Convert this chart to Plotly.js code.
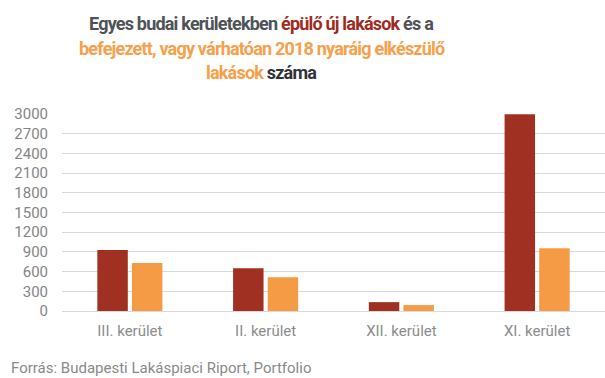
<!DOCTYPE html>
<html><head><meta charset="utf-8">
<script src="https://cdn.plot.ly/plotly-3.0.1.min.js"></script>
<style>html,body{margin:0;padding:0;background:#fff}#c{width:605px;height:378px}</style>
</head><body><div id="c"></div>
<script>
const categories = ["III. kerület", "II. kerület", "XII. kerület", "XI. kerület"];
const epulo = [930, 650, 135, 2995];
const befejezett = [730, 515, 90, 955];
const yTicks = [0, 300, 600, 900, 1200, 1500, 1800, 2100, 2400, 2700, 3000];
const ls = 'letter-spacing:-0.8px;';
const titleLines = [
  '<span style="' + ls + 'color:#4f5256">Egyes budai kerületekben </span><span style="' + ls + 'color:#9E2B1F">épülő új lakások</span><span style="' + ls + 'color:#4f5256"> és a</span>',
  '<span style="' + ls + 'color:#F7A04B">befejezett, vagy várhatóan 2018 nyaráig elkészülő</span>',
  '<span style="' + ls + 'color:#F7A04B">lakások</span><span style="' + ls + 'color:#2f3338"> száma</span>'
];

const traces = [
  {type: 'bar', x: categories, y: epulo, name: 'épülő új lakások', marker: {color: '#A03021'}, hoverinfo: 'y'},
  {type: 'bar', x: categories, y: befejezett, name: 'befejezett lakások', marker: {color: '#F59B45'}, hoverinfo: 'y'}
];

const titleY = [1.457, 1.335, 1.213];
const annotations = titleLines.map((t, i) => ({
  text: '<b>' + t + '</b>', xref: 'paper', yref: 'paper', x: 0.368, y: titleY[i],
  xanchor: 'center', yanchor: 'middle', showarrow: false,
  font: {family: 'Roboto, sans-serif', size: 18, color: '#4f5256'}
}));
annotations.push({
  text: 'Forrás: Budapesti Lakáspiaci Riport, Portfolio', xref: 'paper', yref: 'paper',
  x: -0.097, y: -0.29, xanchor: 'left', yanchor: 'middle', showarrow: false,
  font: {size: 15, color: '#8a8a8a', family: 'Roboto, sans-serif'}
});

const layout = {
  width: 605, height: 378,
  margin: {l: 62, r: 0, t: 114, b: 67},
  paper_bgcolor: '#fff', plot_bgcolor: '#fff',
  showlegend: false,
  barmode: 'group', bargap: 0.49, bargroupgap: 0.12,
  font: {family: 'Roboto, sans-serif'},
  xaxis: {
    type: 'category', showgrid: false, zeroline: false, showline: false,
    tickfont: {size: 15, color: '#8c8c8c'}, ticks: 'outside', ticklen: 6, tickcolor: 'rgba(0,0,0,0)',
    fixedrange: true
  },
  yaxis: {
    range: [0, 3000], tickvals: yTicks, ticktext: yTicks.map(String),
    showgrid: true, gridcolor: '#d9d9d9', gridwidth: 1, zeroline: true, zerolinecolor: '#d9d9d9',
    showline: false, tickfont: {size: 15, color: '#858585'},
    ticks: 'outside', ticklen: 10, tickcolor: 'rgba(0,0,0,0)', fixedrange: true
  },
  annotations: annotations
};
Plotly.newPlot('c', traces, layout, {displayModeBar: false, staticPlot: true});
</script></body></html>
